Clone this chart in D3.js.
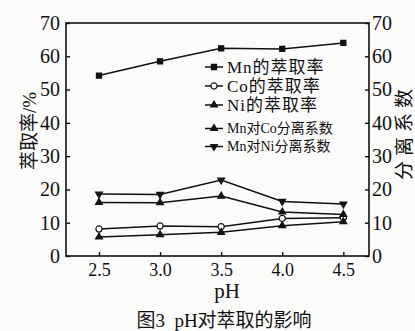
<!DOCTYPE html>
<html>
<head>
<meta charset="utf-8">
<script src="https://cdn.jsdelivr.net/npm/d3@7/dist/d3.min.js"></script>
<style>
  html, body { margin: 0; padding: 0; background: #fbfbfa; }
  svg { display: block; }
  text { fill: #111; }
</style>
</head>
<body>
<svg id="chart" width="415" height="331"></svg>
<script>
// pH values on the x axis
const phValues = [2.5, 3.0, 3.5, 4.0, 4.5];
const xTickLabels = ["2.5", "3.0", "3.5", "4.0", "4.5"];
const yTicks = [0, 10, 20, 30, 40, 50, 60, 70];

// extraction rates, % (left axis)
const mnRate = [54.2, 58.5, 62.4, 62.2, 64.0];
const coRate = [8.1, 9.0, 8.8, 11.3, 11.5];
const niRate = [5.7, 6.4, 7.1, 9.1, 10.3];

// separation factors (right axis)
const mnCoFactor = [16.1, 16.0, 18.0, 13.2, 12.5];
const mnNiFactor = [18.6, 18.5, 22.8, 16.4, 15.6];

const seriesNames = ["Mn的萃取率", "Co的萃取率", "Ni的萃取率", "Mn对Co分离系数", "Mn对Ni分离系数"];

const svg = d3.select("#chart");
const serif = "'Liberation Serif', 'Times New Roman', 'Noto Sans CJK SC', serif";

const box = { left: 66, right: 369, top: 23, bottom: 256 };

const x = d3.scaleLinear().domain([2.23, 4.71]).range([box.left, box.right]);
const yL = d3.scaleLinear().domain([0, 70]).range([box.bottom, box.top]);
const yR = d3.scaleLinear().domain([0, 70]).range([box.bottom, box.top]);

// frame
svg.append("rect")
  .attr("x", box.left).attr("y", box.top)
  .attr("width", box.right - box.left).attr("height", box.bottom - box.top)
  .attr("fill", "none").attr("stroke", "#111").attr("stroke-width", 1.6);

// axes (ticks point inward)
const xAxis = d3.axisBottom(x).tickValues(phValues)
  .tickFormat((d, i) => xTickLabels[i]).tickSizeInner(-4).tickSizeOuter(0).tickPadding(7);
const gx = svg.append("g").attr("transform", `translate(0,${box.bottom})`).call(xAxis);

const leftAxis = d3.axisLeft(yL).tickValues(yTicks).tickSizeInner(-4).tickSizeOuter(0).tickPadding(6);
const gl = svg.append("g").attr("transform", `translate(${box.left},0)`).call(leftAxis);

const rightAxis = d3.axisRight(yR).tickValues(yTicks).tickSizeInner(-4).tickSizeOuter(0).tickPadding(3);
const gr = svg.append("g").attr("transform", `translate(${box.right},0)`).call(rightAxis);

[gx, gl, gr].forEach(g => {
  g.select(".domain").remove();
  g.selectAll(".tick line").attr("stroke", "#111").attr("stroke-width", 1.4);
  g.selectAll(".tick text").attr("font-family", serif).attr("fill", "#111");
});
gx.selectAll(".tick text").attr("font-size", 18);
gl.selectAll(".tick text").attr("font-size", 20);
gr.selectAll(".tick text").attr("font-size", 20);

// axis titles
svg.append("text")
  .attr("transform", "translate(29,131) rotate(-90)")
  .attr("text-anchor", "middle").attr("dominant-baseline", "central")
  .attr("font-family", serif).attr("font-size", 19)
  .text("萃取率/%");

svg.append("text")
  .attr("transform", "translate(404,132) rotate(-90)")
  .attr("text-anchor", "middle").attr("dominant-baseline", "central")
  .attr("font-family", serif).attr("font-size", 19).attr("letter-spacing", 5)
  .text("分离系数");

svg.append("text")
  .attr("x", 227).attr("y", 291)
  .attr("text-anchor", "middle").attr("dominant-baseline", "central")
  .attr("font-family", serif).attr("font-size", 21)
  .text("pH");

svg.append("text")
  .attr("x", 224).attr("y", 320)
  .attr("text-anchor", "middle").attr("dominant-baseline", "central")
  .attr("font-family", serif).attr("font-size", 19)
  .attr("xml:space", "preserve")
  .text("图3  pH对萃取的影响");

// marker definitions
const markers = [
  { type: d3.symbolSquare, size: 26, fill: "#111", rotate: 0 },
  { type: d3.symbolCircle, size: 30, fill: "#fff", rotate: 0 },
  { type: d3.symbolTriangle, size: 20, fill: "#111", rotate: 0 },
  { type: d3.symbolTriangle, size: 20, fill: "#111", rotate: 0 },
  { type: d3.symbolTriangle, size: 20, fill: "#111", rotate: 180 }
];

const series = [
  { values: mnRate, scale: yL },
  { values: coRate, scale: yL },
  { values: niRate, scale: yL },
  { values: mnCoFactor, scale: yR },
  { values: mnNiFactor, scale: yR }
];

const plot = svg.append("g");
series.forEach((s, k) => {
  const pts = phValues.map((p, i) => [x(p), s.scale(s.values[i])]);
  plot.append("path")
    .attr("d", d3.line()(pts))
    .attr("fill", "none").attr("stroke", "#111").attr("stroke-width", 1.5);
  const m = markers[k];
  plot.selectAll(null).data(pts).join("path")
    .attr("transform", d => `translate(${d[0]},${d[1]}) rotate(${m.rotate})`)
    .attr("d", d3.symbol().type(m.type).size(m.size)())
    .attr("fill", m.fill).attr("stroke", "#111").attr("stroke-width", 1.2);
});

// legend
const legendRows = [67, 86, 105, 128.5, 146.5];
const legendFont = [17, 17, 17, 14, 14];
const legend = svg.append("g");
seriesNames.forEach((name, k) => {
  const yy = legendRows[k];
  legend.append("line")
    .attr("x1", 205).attr("x2", 223).attr("y1", yy).attr("y2", yy)
    .attr("stroke", "#111").attr("stroke-width", 1.5);
  const m = markers[k];
  legend.append("path")
    .attr("transform", `translate(214,${yy}) rotate(${m.rotate})`)
    .attr("d", d3.symbol().type(m.type).size(m.size)())
    .attr("fill", m.fill).attr("stroke", "#111").attr("stroke-width", 1.2);
  legend.append("text")
    .attr("x", 227).attr("y", yy)
    .attr("dominant-baseline", "central")
    .attr("font-family", serif).attr("font-size", legendFont[k])
    .attr("letter-spacing", k < 3 ? 1 : 0)
    .text(name);
});
</script>
</body>
</html>
